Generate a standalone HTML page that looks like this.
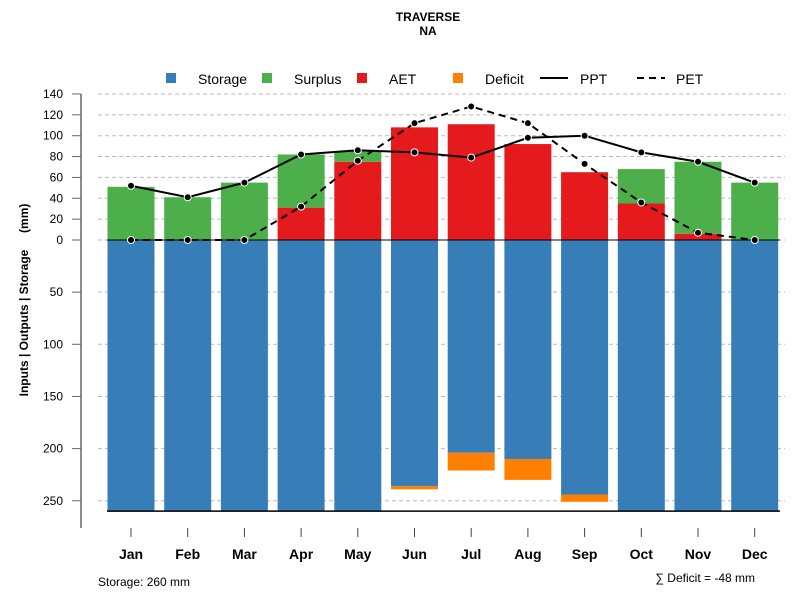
<!DOCTYPE html>
<html><head><meta charset="utf-8"><style>
body{margin:0;background:#fff}
svg{font-family:"Liberation Sans",sans-serif}
</style></head><body>
<svg id="c" width="800" height="600" xmlns="http://www.w3.org/2000/svg">
<text x="428" y="21" text-anchor="middle" font-size="12" font-weight="bold">TRAVERSE</text>
<text x="428" y="35" text-anchor="middle" font-size="12" font-weight="bold">NA</text>
<g id="legend" font-size="14">
<rect x="166" y="73" width="10" height="10" fill="#377eb8"/>
<text x="198" y="84">Storage</text>
<rect x="262" y="73" width="10" height="10" fill="#4daf4a"/>
<text x="294" y="84">Surplus</text>
<rect x="357" y="73" width="10" height="10" fill="#e41a1c"/>
<text x="389" y="84">AET</text>
<rect x="453" y="73" width="10" height="10" fill="#ff7f00"/>
<text x="485" y="84">Deficit</text>
<line x1="540" y1="78" x2="568" y2="78" stroke="#000" stroke-width="2"/>
<text x="580" y="84">PPT</text>
<line x1="637" y1="78" x2="665" y2="78" stroke="#000" stroke-width="2" stroke-dasharray="7,5"/>
<text x="676" y="84">PET</text>
</g>
<text transform="translate(28,300) rotate(-90)" text-anchor="middle" font-size="12" font-weight="bold" style="white-space:pre">Inputs | Outputs | Storage     (mm)</text>
<text x="98" y="586" font-size="12">Storage: 260 mm</text>
<text x="755" y="582" text-anchor="end" font-size="12">∑ Deficit = -48 mm</text>
</svg>
<script>
const months=["Jan","Feb","Mar","Apr","May","Jun","Jul","Aug","Sep","Oct","Nov","Dec"];
const storage=[260,260,260,260,260,236,204,210,244,260,260,260];
const deficit=[0,0,0,0,0,3,17,20,7,0,0,0];
const aet=[0,0,0,31,75,108,111,92,65,35,6,0];
const surplus=[51,41,55,51,10,0,0,0,0,33,69,55];
const ppt=[52,41,55,82,86,84,79,98,100,84,75,55];
const pet=[0,0,0,32,76,112,128,112,73,36,7,0];
const upTicks=[0,20,40,60,80,100,120,140];
const downTicks=[50,100,150,200,250];
const NS="http://www.w3.org/2000/svg";
const svg=document.getElementById('c');
const zeroY=240,k=1.043;
const yUp=v=>zeroY-v*k, yDown=v=>zeroY+v*k;
const xC=i=>131+i*56.7, bw=47;
function mk(t,a,p){const e=document.createElementNS(NS,t);for(const n in a)e.setAttribute(n,a[n]);(p||svg).appendChild(e);return e;}
upTicks.forEach(v=>{const l=mk('line',{x1:98,x2:785,y1:yUp(v),y2:yUp(v),stroke:'#bbb','stroke-dasharray':'4,3'});

});
downTicks.forEach(v=>{const l=mk('line',{x1:98,x2:785,y1:yDown(v),y2:yDown(v),stroke:'#bbb','stroke-dasharray':'4,3'});

});
months.forEach((m,i)=>{
 const x=xC(i)-bw/2;
 let r=mk('rect',{x:x,y:zeroY,width:bw,height:storage[i]*k,fill:'#377eb8'});
 
 
 if(deficit[i]>0){r=mk('rect',{x:x,y:yDown(storage[i]),width:bw,height:deficit[i]*k,fill:'#ff7f00'});
 
 }
 if(aet[i]>0){r=mk('rect',{x:x,y:yUp(aet[i]),width:bw,height:aet[i]*k,fill:'#e41a1c'});
 
 }
 if(surplus[i]>0){r=mk('rect',{x:x,y:yUp(aet[i]+surplus[i]),width:bw,height:surplus[i]*k,fill:'#4daf4a'});
 
 }
});
let fl=mk('line',{x1:107,x2:780,y1:zeroY,y2:zeroY,stroke:'#000','stroke-width':1});


fl=mk('line',{x1:107,x2:780,y1:yDown(260),y2:yDown(260),stroke:'#000','stroke-width':1.5});


let ax=mk('line',{x1:81,x2:81,y1:94,y2:528,stroke:'#666','stroke-width':1.5});


function ytick(y,label){
 const t=mk('line',{x1:72,x2:81,y1:y,y2:y,stroke:'#666'});
 
 
 const tx=mk('text',{x:63,y:y+4,'text-anchor':'end','font-size':12});
 tx.textContent=label;
 
 
}
upTicks.forEach(v=>ytick(yUp(v),v));
downTicks.forEach(v=>ytick(yDown(v),v));
months.forEach((m,i)=>{
 const t=mk('line',{x1:xC(i),x2:xC(i),y1:528,y2:537,stroke:'#444'});
 
 
 const tx=mk('text',{x:xC(i),y:559,'text-anchor':'middle','font-size':14,'font-weight':'bold'});
 tx.textContent=m;
 
 
});
function series(vals,name,dash){
 const p=mk('polyline',{points:vals.map((v,i)=>xC(i)+','+yUp(v)).join(' '),fill:'none',stroke:'#000','stroke-width':2});
 if(dash)p.setAttribute('stroke-dasharray','7,5');
 
 
 vals.forEach((v,i)=>{const c=mk('circle',{cx:xC(i),cy:yUp(v),r:3.5,fill:'#000',stroke:'#fff','stroke-width':1});
 
 });
}
series(pet,'pet',true);
series(ppt,'ppt',false);
</script>
</body></html>
